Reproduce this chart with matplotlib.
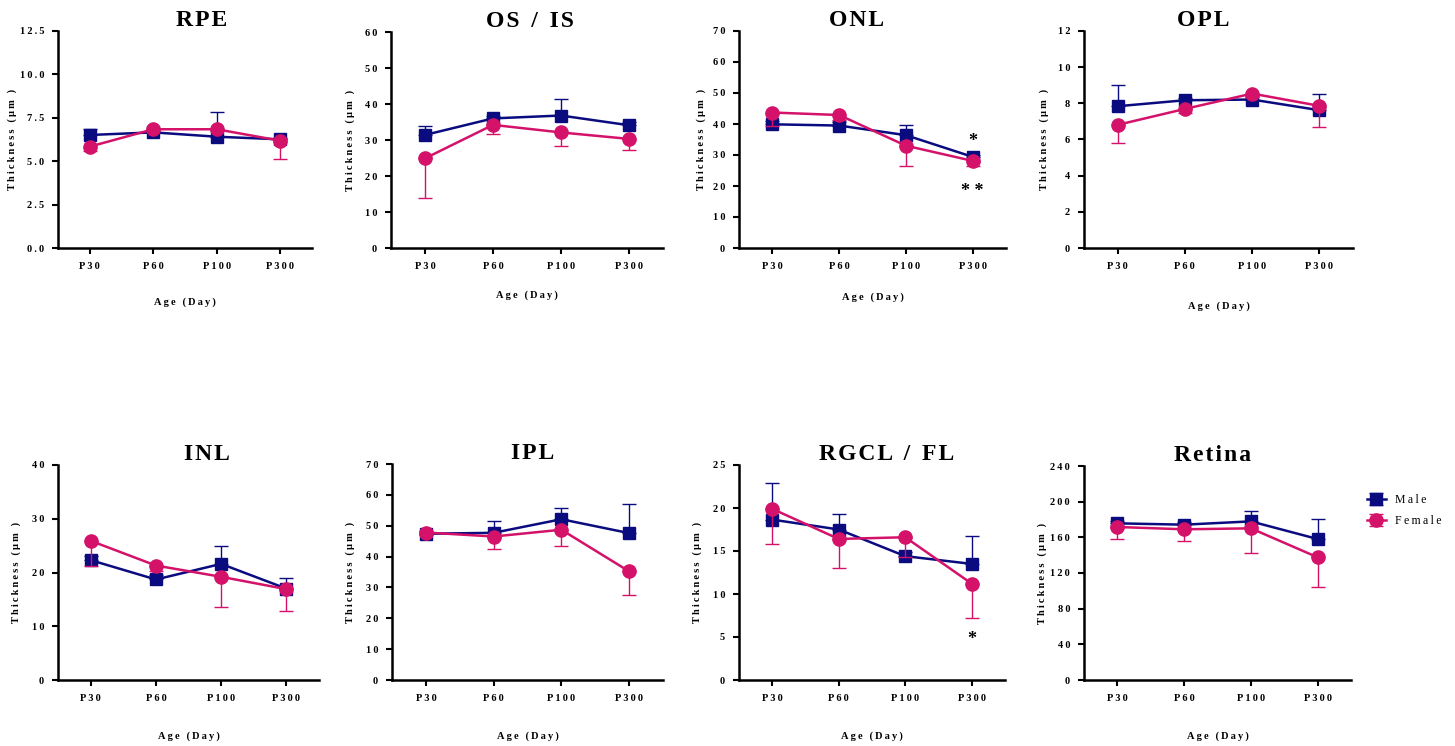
import matplotlib.pyplot as plt
import numpy as np

plt.rcParams['font.family'] = ['Liberation Serif', 'DejaVu Serif']
plt.rcParams['font.weight'] = 'bold'

ages = ["P30", "P60", "P100", "P300"]
layers = ["RPE", "OS / IS", "ONL", "OPL", "INL", "IPL", "RGCL / FL", "Retina"]

# mean thickness (um), one list per layer
male_mean = [[6.51, 6.66, 6.41, 6.26],
             [31.4, 36.0, 36.8, 34.1],
             [39.9, 39.5, 36.4, 29.4],
             [7.84, 8.17, 8.21, 7.62],
             [22.3, 18.7, 21.6, 17.0],
             [47.4, 47.7, 52.1, 47.6],
             [18.65, 17.5, 14.4, 13.5],
             [175.7, 174.2, 177.9, 158.1]]
male_err = [[0.33, 0.1, 1.42, 0.1],
            [2.5, 0.8, 4.5, 0.8],
            [1.0, 1.0, 3.3, 0.5],
            [1.16, 0.15, 0.15, 0.88],
            [0.8, 0.8, 3.4, 2.0],
            [0.8, 3.7, 3.7, 9.3],
            [4.25, 1.85, 0.5, 3.26],
            [3.0, 3.0, 12.0, 22.5]]
female_mean = [[5.84, 6.84, 6.84, 6.18],
               [24.9, 34.2, 32.1, 30.3],
               [43.7, 42.9, 33.0, 28.1],
               [6.81, 7.69, 8.54, 7.86],
               [25.9, 21.3, 19.2, 16.9],
               [47.8, 46.5, 48.7, 35.2],
               [19.9, 16.4, 16.6, 11.2],
               [171.6, 169.0, 170.1, 137.6]]
female_err = [[0.24, 0.1, 0.1, 1.03],
              [11.1, 2.4, 3.8, 3.0],
              [4.5, 1.7, 6.4, 1.7],
              [0.98, 0.2, 0.15, 1.18],
              [4.6, 1.1, 5.7, 4.1],
              [0.8, 4.0, 5.4, 7.6],
              [4.1, 3.4, 2.3, 4.0],
              [13.5, 12.7, 28.0, 33.7]]
y_max = [12.5, 60, 70, 12, 40, 70, 25, 240]
y_step = [2.5, 10, 10, 2, 10, 10, 5, 40]

# significance marks: (layer index, age index, y, text)
stars = [(2, 3, 34.3, "*"), (2, 3, 18.3, "* *"), (6, 3, 4.7, "*")]

male_c = "#0b0b80"
female_c = "#d4126a"

def spaced(s, sep="\u2009", gap=None):
    # letter-spaced text, as in the original figure
    if gap is None:
        gap = sep + " " + sep
    return gap.join(sep.join(w) for w in s.split(" "))

# axes boxes in pixels: left, top, right, bottom
W, H = 1455, 746
boxes = [(58, 31, 312, 248), (391, 32, 663, 248), (739, 31, 1006, 248),
         (1084, 31, 1353, 248), (58, 465, 319, 680), (392, 464, 663, 680),
         (739, 465, 1005, 680), (1084, 466, 1351, 680)]
title_x = [0.567, 0.511, 0.442, 0.442, 0.571, 0.520, 0.556, 0.483]
ylab_off = [46, 41, 38, 40, 42, 42, 42, 42]      # px left of spine
xlab_off = [54, 47, 49, 58, 56, 56, 56, 56]      # px below axis

fig = plt.figure(figsize=(W / 100, H / 100), dpi=100)
x = np.arange(len(ages))
for i, name in enumerate(layers):
    l, t, r, b = boxes[i]
    ax = fig.add_axes([l / W, 1 - b / H, (r - l) / W, (b - t) / H])
    zeros = np.zeros(len(ages))
    ax.errorbar(x, male_mean[i], yerr=[zeros, male_err[i]], color=male_c,
                marker="s", ms=9, lw=1.8, elinewidth=1.0, capsize=5,
                capthick=1.0, label="Male", zorder=3)
    ax.errorbar(x, female_mean[i], yerr=[female_err[i], zeros], color=female_c,
                marker="o", ms=9.5, lw=1.8, elinewidth=1.0, capsize=5,
                capthick=1.0, label="Female", zorder=4)
    ax.set_xlim(-0.5, 3.5)
    ax.set_ylim(0, y_max[i])
    ticks = np.arange(0, y_max[i] + y_step[i] / 2, y_step[i])
    ax.set_yticks(ticks)
    fmt = "{:.1f}" if i == 0 else "{:.0f}"
    ax.set_yticklabels([spaced(fmt.format(v)) for v in ticks])
    ax.set_xticks(x)
    ax.set_xticklabels([spaced(a) for a in ages])
    ax.tick_params(labelsize=7.5, width=1.5, length=4, pad=6)
    for lab in ax.get_xticklabels() + ax.get_yticklabels():
        lab.set_fontweight("bold")
    for side in ["top", "right"]:
        ax.spines[side].set_visible(False)
    for side in ["left", "bottom"]:
        ax.spines[side].set_linewidth(1.8)
    ax.set_title(spaced(name, "\u200a", "  "), fontsize=17,
                 fontweight="bold", pad=1, x=title_x[i])
    ax.set_ylabel(spaced("Thickness (µm )"), fontsize=7.5, fontweight="bold")
    ax.yaxis.set_label_coords(-ylab_off[i] / (r - l), 0.5)
    ax.set_xlabel(spaced("Age (Day)"), fontsize=7.5, fontweight="bold")
    ax.xaxis.set_label_coords(0.5, -xlab_off[i] / (b - t))
    ax.xaxis.label.set_va("center")
    ax.yaxis.label.set_va("center")
    for (li, ai, yv, txt) in stars:
        if li == i:
            ax.text(x[ai], yv, txt, ha="center", va="center", fontsize=13,
                    fontweight="bold")
    if i == 7:
        handles, labels = ax.get_legend_handles_labels()

fig.legend(handles, [spaced("Male"), spaced("Female")], loc="upper left",
           bbox_to_anchor=(0.932, 0.352), frameon=False,
           prop={"size": 8.5, "weight": "normal"},
           handlelength=1.6, handletextpad=0.8, labelspacing=0.75)

fig.savefig("out.png", dpi=100)
